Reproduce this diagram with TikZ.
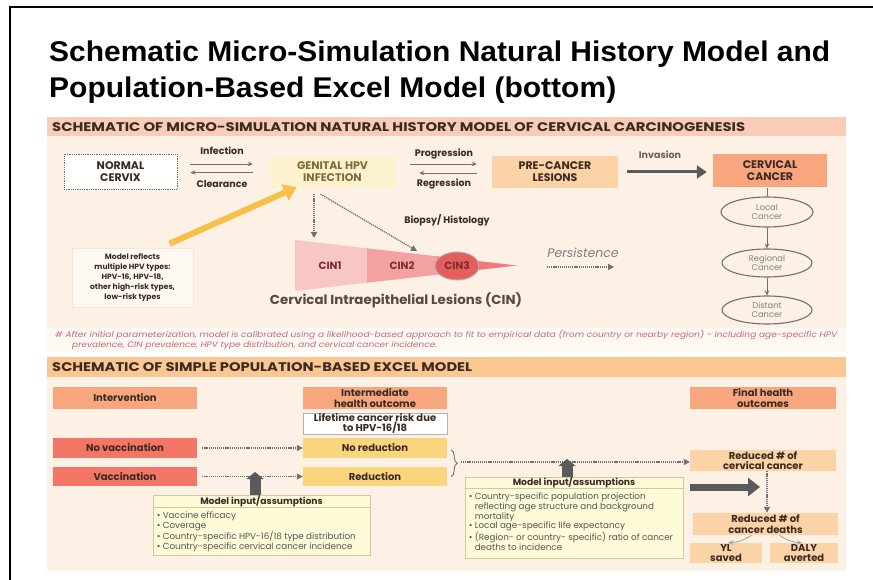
\documentclass[tikz,border=0pt]{standalone}
\usepackage{graphicx}
\usepackage{fontspec}
\setmainfont{Poppins}
\newfontfamily\titlefont{Liberation Sans}
\usetikzlibrary{arrows.meta,decorations.pathreplacing,calc,shapes.geometric}
\definecolor{hdrone}{HTML}{F8CCB6}
\definecolor{hdrtwo}{HTML}{FAC793}
\definecolor{panel}{HTML}{FDF0E5}
\definecolor{footbg}{HTML}{FEF8F3}
\definecolor{txt}{HTML}{3A2A22}
\definecolor{salmon}{HTML}{F8A67E}
\definecolor{peach}{HTML}{FCD3A7}
\definecolor{paleyel}{HTML}{FDF2CF}
\definecolor{redbox}{HTML}{F27565}
\definecolor{yelbox}{HTML}{FAD57E}
\definecolor{inbox}{HTML}{FDFBD8}
\definecolor{inborder}{HTML}{CFC8A0}
\definecolor{arrgray}{HTML}{707070}
\definecolor{darkarr}{HTML}{5A5A5A}
\definecolor{goldarr}{HTML}{F6C04A}
\definecolor{cinone}{HTML}{F9C6C6}
\definecolor{cintwo}{HTML}{F4A1A1}
\definecolor{cinthree}{HTML}{F07A7A}
\definecolor{cinred}{HTML}{E45E5E}
\definecolor{cintxt}{HTML}{7A2E2E}
\definecolor{foottxt}{HTML}{C4697A}
\definecolor{olive}{HTML}{7E6B35}
\definecolor{bullettxt}{HTML}{555555}
\begin{document}
\begin{tikzpicture}[x=1pt,y=-1pt,
  box/.style={rectangle, inner sep=0pt, align=center, text=txt, font=\fontsize{11}{12}\selectfont\bfseries},
  smallbox/.style={box, font=\fontsize{10}{10.5}\selectfont\bfseries},
  lbl/.style={inner sep=0pt, text=txt, font=\fontsize{9.5}{10}\selectfont\bfseries},
  ell/.style={ellipse, draw=arrgray, line width=1.1pt, inner sep=0pt, align=center, text=gray, font=\fontsize{8.3}{9}\selectfont},
  hdr/.style={inner sep=0pt, anchor=west, text=txt, font=\fontsize{12.5}{14}\selectfont\bfseries},
  foot/.style={inner sep=0pt, anchor=west, text=foottxt, font=\fontsize{8}{9}\selectfont\itshape},
  inboxst/.style={rectangle, fill=inbox, draw=inborder, line width=0.8pt, inner sep=0pt},
  inhead/.style={inner sep=0pt, text=txt, font=\fontsize{9.2}{10}\selectfont\bfseries},
  bullets/.style={inner sep=0pt, anchor=north west, align=left, text=bullettxt, font=\fontsize{8.8}{9.8}\selectfont},
  cinl/.style={inner sep=0pt, text=cintxt, font=\fontsize{10.5}{11}\selectfont\bfseries},
  thinarr/.style={draw=arrgray, line width=0.9pt, -{Stealth[length=5pt,width=4.5pt]}},
  dotarr/.style={draw=arrgray, line width=1.3pt, dash pattern=on 1.2pt off 0.9pt, -{Triangle[length=6pt,width=6pt]}},
  bigarr/.style={draw=darkarr, line width=3pt, -{Triangle[length=10pt,width=13pt]}},
  blockarr/.style={draw=darkarr, line width=11pt, -{Triangle[length=7pt,width=17pt]}},
  fatarr/.style={draw=darkarr, line width=7pt, -{Triangle[length=12pt,width=18pt]}},
  goldarrow/.style={draw=goldarr, line width=6pt, -{Triangle[length=13pt,width=17pt]}}
]
\useasboundingbox (0,0) rectangle (873,580);
\fill[white] (0,0) rectangle (873,580);
\draw[line width=2pt] (10,580) -- (10,7.5) -- (873,7.5);

% title
\node[inner sep=0pt, anchor=base west, font=\titlefont\fontsize{28.5}{30}\selectfont\bfseries] (title1) at (49,62)
  {\resizebox{781pt}{\height}{Schematic Micro-Simulation Natural History Model and}};
\node[inner sep=0pt, anchor=base west, font=\titlefont\fontsize{28.5}{30}\selectfont\bfseries] (title2) at (49,98)
  {\resizebox{567pt}{\height}{Population-Based Excel Model (bottom)}};

% panels
\fill[hdrone] (47,117) rectangle (846,136);
\fill[panel] (47,136) rectangle (846,328);
\fill[footbg] (47,328) rectangle (846,352);
\fill[hdrtwo] (47,357) rectangle (846,377);
\fill[panel] (47,377) rectangle (846,571);

\node[hdr] (hdrA) at (52,127) {\resizebox{693pt}{\height}{SCHEMATIC OF MICRO-SIMULATION NATURAL HISTORY MODEL OF CERVICAL CARCINOGENESIS}};
\node[hdr] (hdrB) at (52,367.5) {\resizebox{420pt}{\height}{SCHEMATIC OF SIMPLE POPULATION-BASED EXCEL MODEL}};

% top row
\node[box, fill=white, draw=arrgray, densely dotted, line width=0.8pt, minimum width=113, minimum height=35] (normal) at (120.5,172) {NORMAL\\CERVIX};
\node[box, fill=paleyel, text=olive, minimum width=125, minimum height=32] (hpv) at (332.5,172) {GENITAL HPV\\INFECTION};
\node[box, fill=peach, minimum width=126, minimum height=32] (precancer) at (555,172) {PRE-CANCER\\LESIONS};
\node[box, fill=salmon, minimum width=114, minimum height=33] (cancer) at (770,171) {CERVICAL\\CANCER};

\draw[thinarr, shorten <=13pt, shorten >=17pt] ([yshift=8pt]normal.east) -- ([yshift=8pt]normal.east -| hpv.west);
\draw[thinarr, shorten <=17pt, shorten >=13pt] ([yshift=-0.5pt]hpv.west) -- ([yshift=-0.5pt]hpv.west -| normal.east);
\node[lbl] (linf) at (222,151) {Infection};
\node[lbl] (lclr) at (222,184) {Clearance};

\draw[thinarr, shorten <=15pt, shorten >=15pt] ([yshift=8pt]hpv.east) -- ([yshift=8pt]hpv.east -| precancer.west);
\draw[thinarr, shorten <=15pt, shorten >=24pt] ([yshift=-1pt]precancer.west) -- ([yshift=-1pt]precancer.west -| hpv.east);
\node[lbl] (lprog) at (444,154) {Progression};
\node[lbl] (lreg) at (444,184) {Regression};

\draw[bigarr, shorten <=9pt, shorten >=6pt] (precancer.east) -- (precancer.east -| cancer.west);
\node[lbl, font=\fontsize{9.5}{10}\selectfont\bfseries, text=txt!75] (linv) at (660,155) {Invasion};

% cancer stages
\node[ell, minimum width=92, minimum height=30] (local) at (767,212) {Local\\Cancer};
\node[ell, minimum width=90, minimum height=28] (regional) at (767,263) {Regional\\Cancer};
\node[ell, minimum width=90, minimum height=28] (distant) at (767,310) {Distant\\Cancer};
\draw[draw=arrgray, line width=1pt] (cancer.south -| local.north) -- (local.north);
\draw[thinarr] (local.south) -- (regional.north);
\draw[thinarr] (regional.south) -- (distant.north);

% CIN wedge
\fill[cinone] (295,240) -- (367,248.3) -- (367,282.7) -- (295,291) -- cycle;
\fill[cintwo] (367,248.3) -- (437,256.3) -- (437,274.7) -- (367,282.7) -- cycle;
\fill[cinthree] (437,256.3) -- (517,265.5) -- (437,274.7) -- cycle;
\node[ellipse, fill=cinred, draw=gray!60, line width=1pt, minimum width=44, minimum height=28, inner sep=0pt, cinl] (cin3) at (457,266) {CIN3};
\node[cinl] (cin1) at (330,266) {CIN1};
\node[cinl] (cin2) at (402,266) {CIN2};
\node[inner sep=0pt, text=txt!85, font=\fontsize{13}{14}\selectfont\bfseries] (cinlab) at (396,300) {\resizebox{252pt}{\height}{Cervical Intraepithelial Lesions (CIN)}};

\coordinate (cintop) at (314,238);
\coordinate (cinthreetop) at (417,251);
\draw[dotarr] ([xshift=-18.5pt,yshift=-6pt]hpv.south) -- (cintop);
\draw[dotarr] ([xshift=-12pt,yshift=-6pt]hpv.south) -- (cinthreetop);
\node[lbl, font=\fontsize{9.5}{10}\selectfont\bfseries] (biopsy) at (447,220) {Biopsy/ Histology};

\node[inner sep=0pt, text=gray, font=\fontsize{12.5}{13}\selectfont\itshape] (persist) at (583,253) {Persistence};
\coordinate (persA) at (547,267);
\coordinate (persB) at (614,267);
\draw[dotarr] (persA) -- (persB);

% model reflects
\node[box, fill=footbg, draw=peach!60, line width=0.6pt, minimum width=121, minimum height=59, font=\fontsize{7.6}{10}\selectfont\bfseries] (reflects) at (132.5,277.5)
  {Model reflects\\multiple HPV types:\\HPV-16, HPV-18,\\other high-risk types,\\low-risk types};
\draw[goldarrow] ([xshift=37pt,yshift=4pt]reflects.north) -- ([xshift=27pt,yshift=1pt]hpv.south west);

% footnote
\node[foot] (fn1) at (55,335) {\resizebox{782pt}{\height}{\# After initial parameterization, model is calibrated using a likelihood-based approach to fit to empirical data (from country or nearby region) - including age-specific HPV}};
\node[foot] (fn2) at (72,345) {\resizebox{365pt}{\height}{prevalence, CIN prevalence, HPV type distribution, and cervical cancer incidence.}};

% bottom model
\node[smallbox, fill=salmon, minimum width=144, minimum height=22] (interv) at (125,398) {Intervention};
\node[smallbox, fill=salmon, minimum width=144, minimum height=22] (intermed) at (375,398) {Intermediate\\health outcome};
\node[smallbox, fill=salmon, minimum width=146, minimum height=22] (final) at (763,398) {Final health\\outcomes};
\node[smallbox, fill=white, draw=gray!60, line width=0.8pt, minimum width=144, minimum height=21] (lifetime) at (375,423.5) {Lifetime cancer risk due\\to HPV-16/18};
\node[smallbox, fill=redbox, minimum width=144, minimum height=20] (novacc) at (125,448) {No vaccination};
\node[smallbox, fill=redbox, minimum width=144, minimum height=19] (vacc) at (125,476.5) {Vaccination};
\node[smallbox, fill=yelbox, minimum width=144, minimum height=20] (nored) at (375,448) {No reduction};
\node[smallbox, fill=yelbox, minimum width=144, minimum height=19] (red) at (375,476.5) {Reduction};
\node[smallbox, fill=peach, minimum width=146, minimum height=21] (redcc) at (763,460.5) {Reduced \# of\\cervical cancer};
\node[smallbox, fill=peach, minimum width=145, minimum height=22] (deaths) at (765.5,524) {Reduced \# of\\cancer deaths};
\node[smallbox, fill=peach, minimum width=72, minimum height=20] (yl) at (726,553) {YL\\saved};
\node[smallbox, fill=peach, minimum width=68, minimum height=20] (daly) at (804,553) {DALY\\averted};

\draw[dotarr, shorten <=5pt] (novacc.east) -- (nored.west);
\draw[dotarr, shorten <=5pt] (vacc.east) -- (red.west);
\draw[draw=arrgray, line width=0.9pt, decorate, decoration={brace, amplitude=6pt}] ([xshift=4pt,yshift=-2pt]nored.east) -- ([xshift=4pt,yshift=0pt]red.east);
\coordinate (bracetip) at (461,462);
\draw[dotarr] (bracetip) -- (bracetip -| redcc.west);
\draw[dotarr] ([xshift=4pt]redcc.south) -- ([xshift=4pt]redcc.south |- deaths.north);
\draw[thinarr, draw=gray!70] ([xshift=-14pt]deaths.south) to[bend left=15] ([xshift=2pt]yl.north);
\draw[thinarr, draw=gray!70] ([xshift=14pt]deaths.south) to[bend right=15] ([xshift=-2pt]daly.north);

% model input boxes
\node[inboxst, minimum width=217, minimum height=60] (inA) at (261.5,525) {};
\node[inhead] (inAh) at ($(inA.north)+(0,7)$) {Model input/assumptions};
\draw[draw=inborder, line width=0.8pt] ([yshift=-13pt]inA.north west) -- ([yshift=-13pt]inA.north east);
\node[bullets] (inAb) at ([xshift=4pt,yshift=-17pt]inA.north west)
  {• Vaccine efficacy\\• Coverage\\• Country-specific HPV-16/18 type distribution\\• Country-specific cervical cancer incidence};

\node[inboxst, minimum width=218, minimum height=81] (inB) at (574,517.5) {};
\node[inhead] (inBh) at ($(inB.north)+(0,6)$) {Model input/assumptions};
\draw[draw=inborder, line width=0.8pt] ([yshift=-12pt]inB.north west) -- ([yshift=-12pt]inB.north east);
\node[bullets] (inBb) at ([xshift=4pt,yshift=-16pt]inB.north west)
  {• Country-specific population projection\\\phantom{• }reflecting age structure and background\\\phantom{• }mortality\\• Local age-specific life expectancy\\• (Region- or country- specific) ratio of cancer\\\phantom{• }deaths to incidence};

\coordinate (upAtip) at (255,472);
\coordinate (upBtip) at (567,459);
\draw[blockarr] ([xshift=-6.5pt]inA.north) -- (upAtip);
\draw[blockarr] ([xshift=-7pt]inB.north) -- (upBtip);
\coordinate (fatB) at (760,487);
\draw[fatarr] ([xshift=7pt,yshift=30.5pt]inB.east) -- (fatB);
\end{tikzpicture}
\end{document}
